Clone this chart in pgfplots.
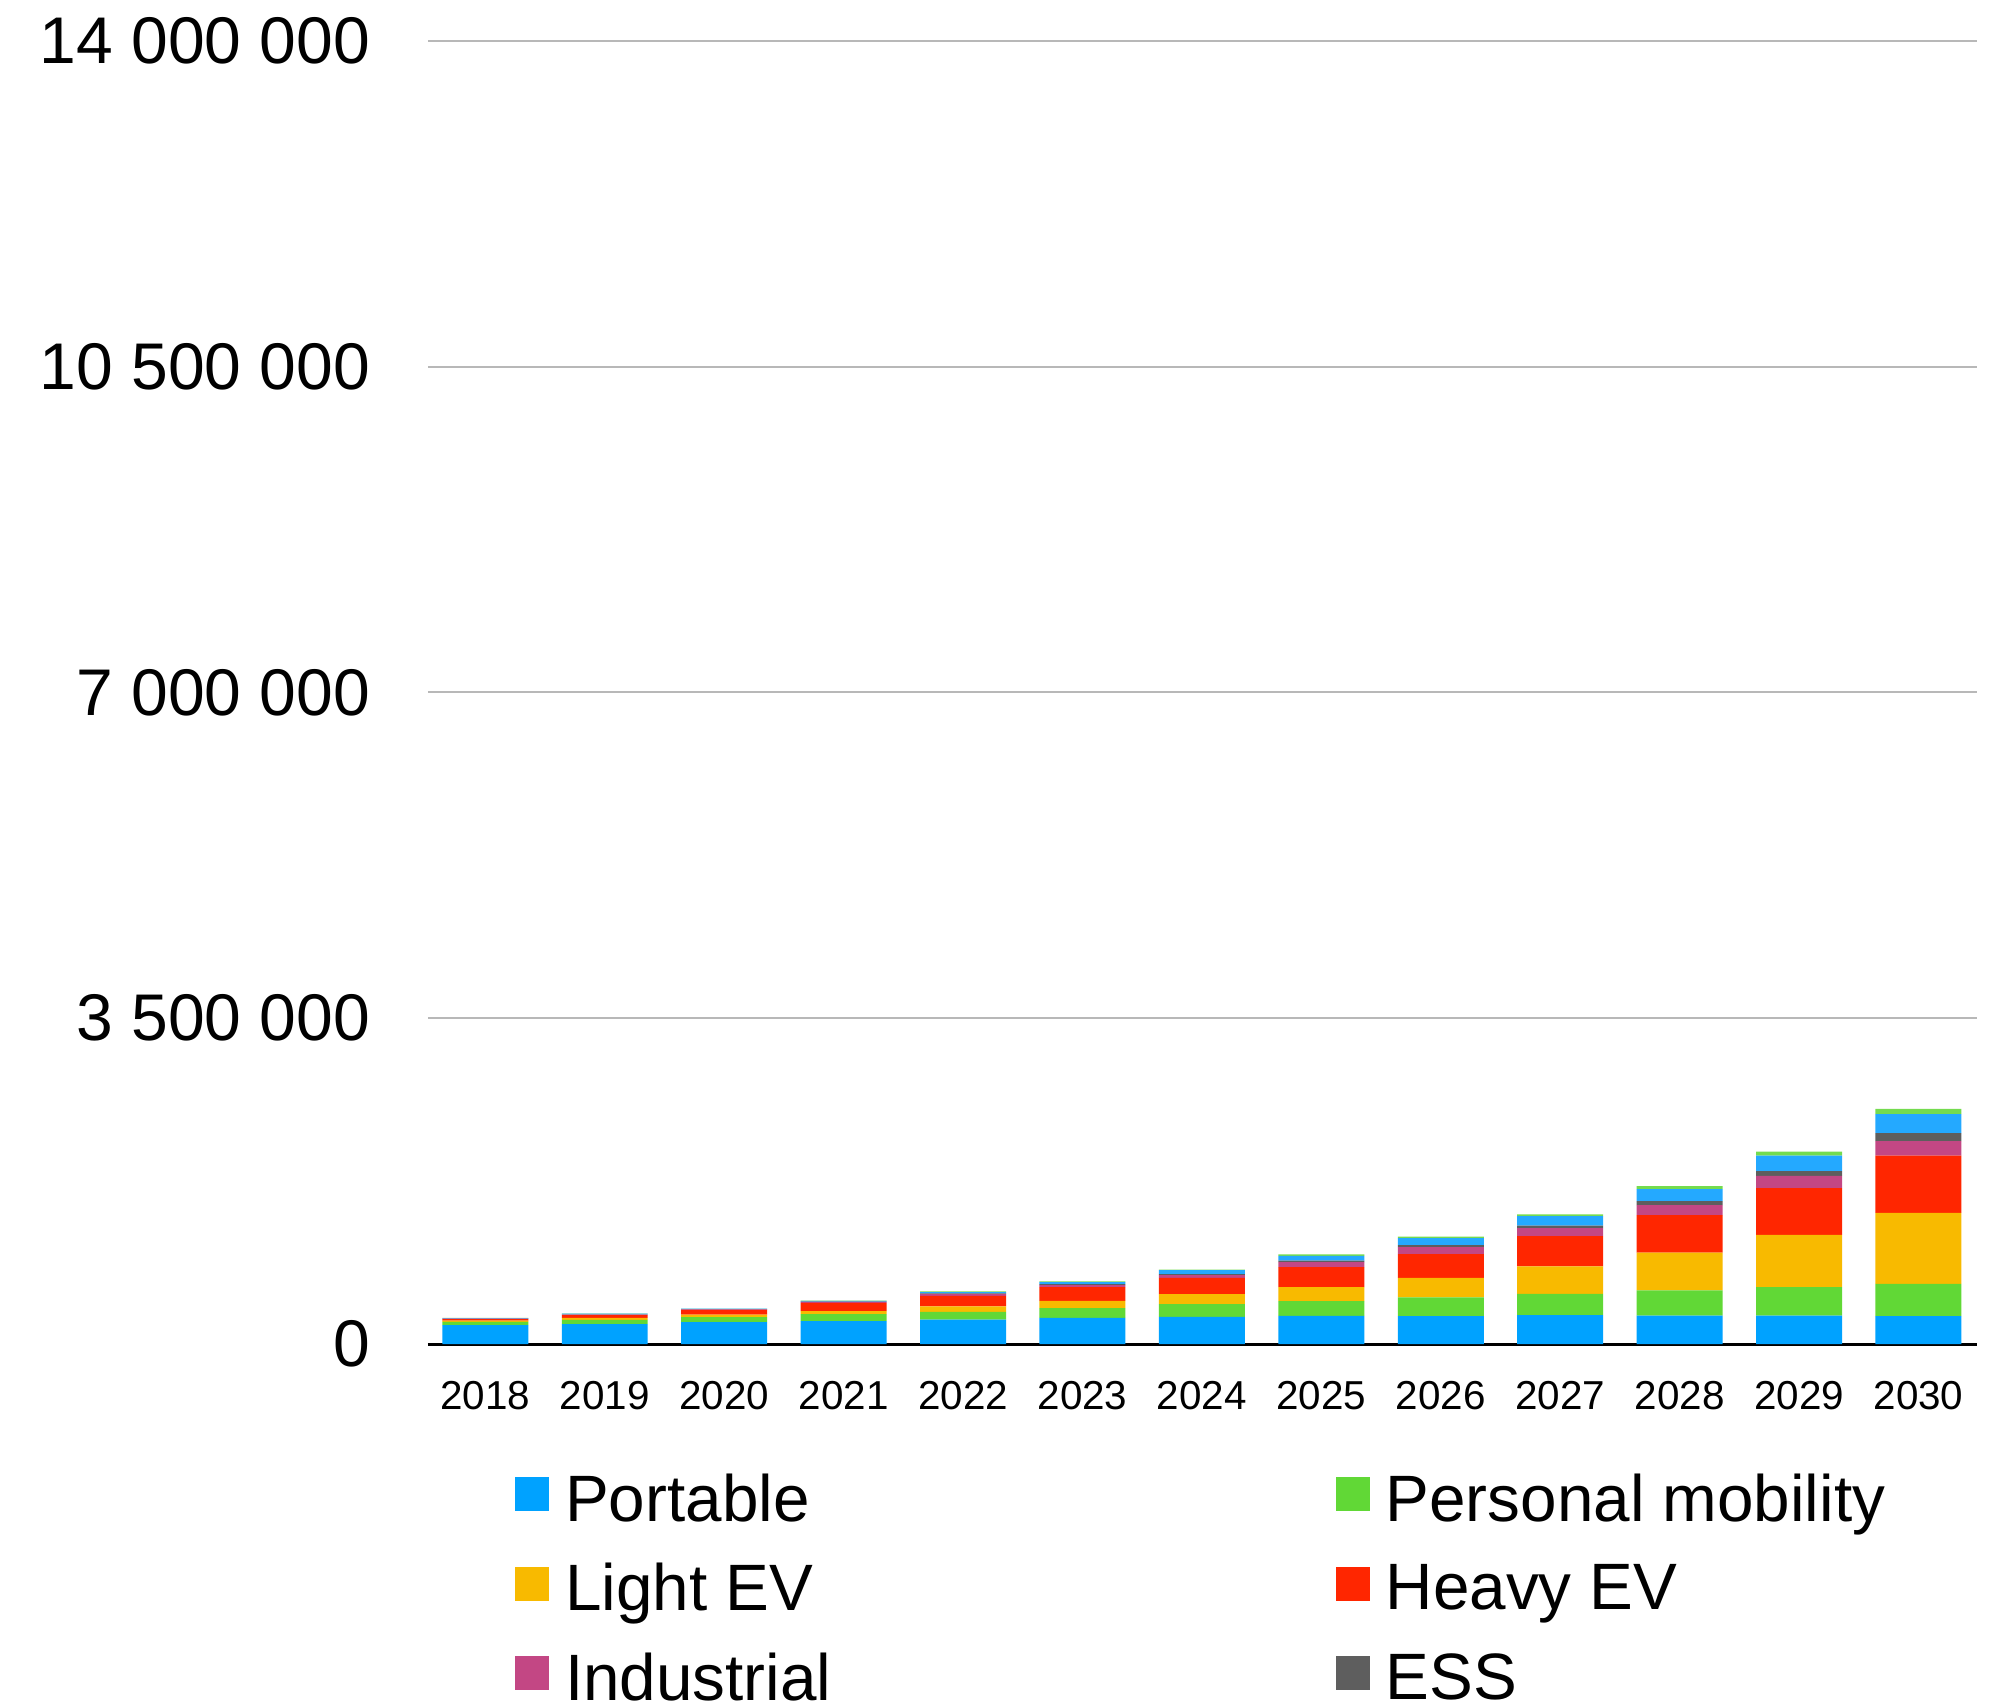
\documentclass[border=0pt]{standalone}
\usepackage{pgfplots}
\pgfplotsset{compat=1.18}
\usepackage{pgfplotstable}
\usepackage{fontspec}
\setmainfont{Liberation Sans}
\definecolor{cPortable}{HTML}{00A2FF}
\definecolor{cPM}{HTML}{61D836}
\definecolor{cLEV}{HTML}{F8BA00}
\definecolor{cHEV}{HTML}{FF2600}
\definecolor{cInd}{HTML}{C34784}
\definecolor{cESS}{HTML}{5E5E5E}
\definecolor{cBlueB}{HTML}{24A9FF}
\definecolor{cGreenB}{HTML}{74DB4F}
\definecolor{cGrid}{HTML}{B8B8B8}

\pgfplotstableread{
x portable pm lev hev ind ess blueb greenb
0 202000 36000 14000 15000 5000 2000 5000 2000
1 213000 47000 21000 29000 6000 2000 8000 2000
2 234000 54000 29000 50000 6000 2000 4000 2000
3 245000 75000 32000 91000 10000 3000 8000 3000
4 263000 83000 57000 115000 18000 7000 15000 7000
5 281000 104000 79000 146000 22000 11000 21000 8000
6 292000 136000 107000 176000 29000 10000 43000 7000
7 303000 157000 150000 215000 54000 18000 50000 15000
8 299000 201000 211000 254000 75000 22000 75000 18000
9 310000 229000 294000 326000 86000 26000 103000 18000
10 306000 269000 408000 401000 107000 43000 129000 32000
11 306000 304000 563000 501000 133000 50000 168000 43000
12 299000 348000 763000 615000 154000 86000 204000 58000
}\datatable

\pgfplotsset{
  sw/.style={legend image code/.code={\fill[#1] (0bp,-2.68bp) rectangle (8.5bp,5.82bp);}},
}
\newcommand{\lt}[1]{#1\vphantom{Pgy}}
\newcommand{\ltl}[1]{\makebox[190.6bp][l]{#1\vphantom{Pgy}}}

\begin{document}
\begin{tikzpicture}
\begin{axis}[
  name=ax,
  scale only axis,
  width=387.25bp, height=325.75bp,
  ybar stacked, bar width=0.72,
  xmin=-0.48, xmax=12.49,
  ymin=0, ymax=14000000,
  scaled y ticks=false,
  ytick={0,3500000,7000000,10500000,14000000},
  yticklabels={0,3 500 000,7 000 000,10 500 000,14 000 000},
  xtick={0,1,2,3,4,5,6,7,8,9,10,11,12},
  xticklabels={2018,2019,2020,2021,2022,2023,2024,2025,2026,2027,2028,2029,2030},
  ymajorgrids, grid style={cGrid, line width=0.5bp},
  major tick length=0pt,
  axis x line*=bottom,
  x axis line style={-, black, line width=0.75bp},
  y axis line style={draw=none},
  yticklabel style={font=\fontsize{16.5bp}{20bp}\selectfont, anchor=east, inner sep=0pt, xshift=-14.3bp},
  xticklabel style={font=\fontsize{10.1bp}{12bp}\selectfont, anchor=north, inner sep=0pt, yshift=-9.1bp},
  legend columns=2,
  legend cell align=left,
  legend style={at={(axis description cs:0.0562,-0.0936)}, anchor=north west, draw=none, fill=none, inner sep=0pt, outer sep=0pt, row sep=5.0bp, font=\fontsize{16.4bp}{19bp}\selectfont,
    /tikz/every odd column/.append style={column sep=2.05bp},
    /tikz/every even column/.append style={column sep=0pt}},
]
\addplot[fill=cPortable, draw=none, sw=cPortable] table[x=x, y=portable]{\datatable};
\addlegendentry{\ltl{Portable}}
\addplot[fill=cPM, draw=none, sw=cPM] table[x=x, y=pm]{\datatable};
\addlegendentry{\lt{Personal mobility}}
\addplot[fill=cLEV, draw=none, sw=cLEV] table[x=x, y=lev]{\datatable};
\addlegendentry{\ltl{Light EV}}
\addplot[fill=cHEV, draw=none, sw=cHEV] table[x=x, y=hev]{\datatable};
\addlegendentry{\lt{Heavy EV}}
\addplot[fill=cInd, draw=none, sw=cInd] table[x=x, y=ind]{\datatable};
\addlegendentry{\ltl{Industrial}}
\addplot[fill=cESS, draw=none, sw=cESS] table[x=x, y=ess]{\datatable};
\addlegendentry{\lt{ESS}}
\addplot[fill=cBlueB, draw=none] table[x=x, y=blueb]{\datatable};
\addplot[fill=cGreenB, draw=none] table[x=x, y=greenb]{\datatable};
\end{axis}
\pgfresetboundingbox
\path ([xshift=-107bp,yshift=-90.75bp]ax.south west) rectangle ([xshift=6.5bp,yshift=10.25bp]ax.north east);
\end{tikzpicture}
\end{document}
